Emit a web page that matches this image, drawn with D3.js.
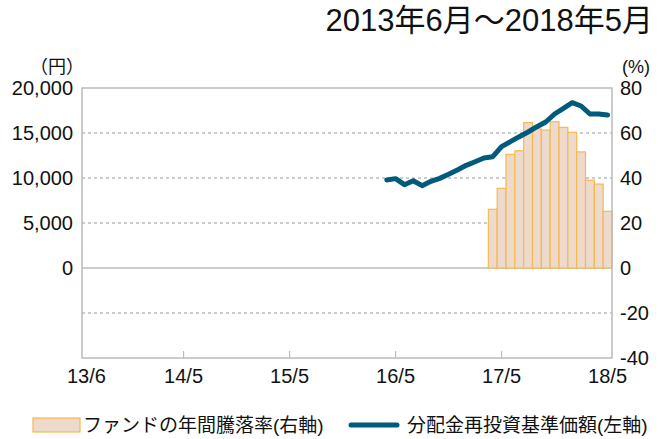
<!DOCTYPE html>
<html>
<head>
<meta charset="utf-8">
<script src="https://cdn.jsdelivr.net/npm/d3@7"></script>
<style>
  body { margin: 0; background: #fff; }
  svg { display: block; font-family: "Liberation Sans", "Noto Sans CJK JP", sans-serif; }
</style>
</head>
<body>
<div id="chart"></div>
<script>
// months 2013/6 .. 2018/5
const months = d3.timeMonth.range(new Date(2013, 5, 1), new Date(2018, 5, 1));
const tickLabels = ['13/6', '14/5', '15/5', '16/5', '17/5', '18/5'];
const tickIndex = [0, 11, 23, 35, 47, 59];

// 分配金再投資基準価額 (円), from 2016/4
const navStart = 34;
const navValues = [9780, 9930, 9260, 9700, 9150, 9630, 9960, 10410, 10890, 11410,
  11810, 12220, 12370, 13480, 14040, 14590, 15110, 15700, 16220, 17110,
  17740, 18370, 18000, 17110, 17110, 17000];

// ファンドの年間騰落率 (%): 2013/6 is 0, then from 2017/4
const retFirst = 0;
const retStart = 46;
const retValues = [26.1, 35.4, 50.5, 52.1, 64.6, 61.8, 61.3, 65.0, 62.5, 60.3,
  51.6, 39.0, 37.3, 25.2];

const leftTicks = [0, 5000, 10000, 15000, 20000];
const rightTicks = [-40, -20, 0, 20, 40, 60, 80];
const gridTicks = [-5000, 5000, 10000, 15000];

const W = 660, H = 439;
const margin = {top: 88, right: 48, bottom: 81, left: 82};
const width = W - margin.left - margin.right;
const height = H - margin.top - margin.bottom;

const svg = d3.select('#chart').append('svg')
  .attr('width', W)
  .attr('height', H);

const g = svg.append('g')
  .attr('transform', `translate(${margin.left},${margin.top})`);

const x = d3.scaleBand().domain(d3.range(months.length)).range([0, width]).padding(0);
const yL = d3.scaleLinear().domain([-10000, 20000]).range([height, 0]);
const yR = d3.scaleLinear().domain([-40, 80]).range([height, 0]);

// dashed grid
g.selectAll('.grid').data(gridTicks).enter().append('line')
  .attr('x1', 0).attr('x2', width)
  .attr('y1', d => yL(d)).attr('y2', d => yL(d))
  .attr('stroke', '#999').attr('stroke-width', 1).attr('stroke-dasharray', '3,3');

// zero line
g.append('line')
  .attr('x1', 0).attr('x2', width)
  .attr('y1', yL(0)).attr('y2', yL(0))
  .attr('stroke', '#bbb').attr('stroke-width', 1.5);

// bars
const bars = [{i: 0, v: retFirst}].concat(retValues.map((v, k) => ({i: retStart + k, v: v})));
g.selectAll('.bar').data(bars).enter().append('rect')
  .attr('class', 'bar')
  .attr('x', d => x(d.i))
  .attr('width', x.bandwidth())
  .attr('y', d => yR(Math.max(0, d.v)))
  .attr('height', d => Math.abs(yR(d.v) - yR(0)))
  .attr('fill', '#eed9cd')
  .attr('stroke', '#f6b94c')
  .attr('stroke-width', 1.2);

// frame
g.append('rect')
  .attr('x', 0).attr('y', 0).attr('width', width).attr('height', height)
  .attr('fill', 'none').attr('stroke', '#bbb').attr('stroke-width', 1.5);

// x ticks (inside)
g.selectAll('.xtick').data(tickIndex.slice(1, -1)).enter().append('line')
  .attr('x1', d => x(d) + x.bandwidth() / 2).attr('x2', d => x(d) + x.bandwidth() / 2)
  .attr('y1', height).attr('y2', height - 7)
  .attr('stroke', '#bbb').attr('stroke-width', 1.2);

// line
const line = d3.line()
  .x((d, k) => x(navStart + k) + x.bandwidth() / 2)
  .y(d => yL(d));
g.append('path')
  .datum(navValues)
  .attr('d', line)
  .attr('fill', 'none')
  .attr('stroke', '#005a7c')
  .attr('stroke-width', 5)
  .attr('stroke-linejoin', 'round')
  .attr('stroke-linecap', 'round');

// axis labels
g.selectAll('.ll').data(leftTicks).enter().append('text')
  .attr('x', -9).attr('y', d => yL(d)).attr('dy', '0.36em')
  .attr('text-anchor', 'end').attr('font-size', 20).attr('fill', '#111')
  .text(d => d3.format(',')(d));

g.selectAll('.rl').data(rightTicks).enter().append('text')
  .attr('x', width + 8).attr('y', d => yR(d)).attr('dy', '0.36em')
  .attr('text-anchor', 'start').attr('font-size', 20).attr('fill', '#111')
  .text(d => d);

g.selectAll('.xl').data(tickIndex).enter().append('text')
  .attr('x', d => x(d) + x.bandwidth() / 2).attr('y', height + 25)
  .attr('text-anchor', 'middle').attr('font-size', 20).attr('fill', '#111')
  .text((d, k) => tickLabels[k]);

svg.append('text').attr('x', 57).attr('y', 73).attr('text-anchor', 'middle')
  .attr('font-size', 18).attr('fill', '#111').text('（円）');
svg.append('text').attr('x', 636).attr('y', 73).attr('text-anchor', 'middle')
  .attr('font-size', 18).attr('fill', '#111').text('(%)');

// title
svg.append('text').attr('x', 653).attr('y', 31).attr('text-anchor', 'end')
  .attr('font-size', 31).attr('fill', '#111').text('2013年6月～2018年5月');

// legend
const lg = svg.append('g');
lg.append('rect').attr('x', 33).attr('y', 418).attr('width', 47).attr('height', 14)
  .attr('fill', '#eed9cd').attr('stroke', '#f6b94c').attr('stroke-width', 1.2);
lg.append('text').attr('x', 83).attr('y', 432).attr('font-size', 19).attr('fill', '#111')
  .text('ファンドの年間騰落率(右軸)');
lg.append('line').attr('x1', 351).attr('x2', 397).attr('y1', 425).attr('y2', 425)
  .attr('stroke', '#005a7c').attr('stroke-width', 5).attr('stroke-linecap', 'round');
lg.append('text').attr('x', 407).attr('y', 432).attr('font-size', 19).attr('fill', '#111')
  .text('分配金再投資基準価額(左軸)');
</script>
</body>
</html>
